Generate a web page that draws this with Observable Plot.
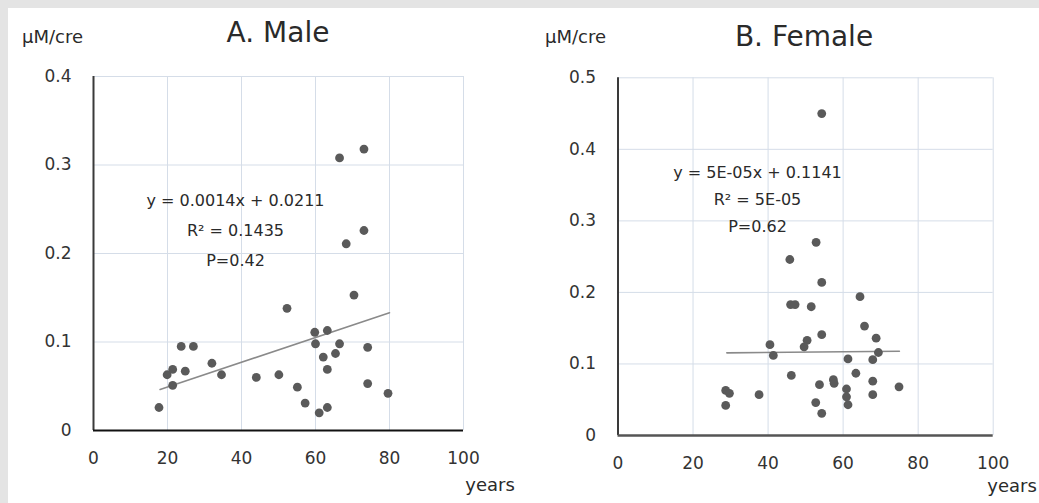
<!DOCTYPE html>
<html>
<head>
<meta charset="utf-8">
<script src="https://cdn.jsdelivr.net/npm/d3@7"></script>
<script src="https://cdn.jsdelivr.net/npm/@observablehq/plot@0.6"></script>
<style>
  html, body { margin: 0; padding: 0; }
  body { width: 1039px; height: 503px; background: #e4e4e4; position: relative; overflow: hidden; font-family: "DejaVu Sans", sans-serif; }
  #sheet { position: absolute; left: 8px; top: 8px; width: 1031px; height: 495px; background: #fff; }
  .panel { position: absolute; top: 0; }
  .lbl { position: absolute; white-space: nowrap; color: #2a2a2a; }
  .c { transform: translate(-50%, -50%); }
  .v { transform: translateY(-50%); }
</style>
</head>
<body>
<div id="sheet"></div>
<div id="left" class="panel" style="left:0px"></div>
<div id="right" class="panel" style="left:520px"></div>
<div class="lbl v" style="left:22px; top:36px; font-size:18px;">µM/cre</div>
<div class="lbl c" style="left:278px; top:32px; font-size:28px;">A. Male</div>
<div class="lbl c" style="left:490px; top:484px; font-size:18px;">years</div>
<div class="lbl v" style="left:545px; top:36px; font-size:18px;">µM/cre</div>
<div class="lbl c" style="left:804px; top:36px; font-size:28px;">B. Female</div>
<div class="lbl c" style="left:1012px; top:485px; font-size:18px;">years</div>
<script>
// ---- data ----
const xTicks = [0, 20, 40, 60, 80, 100];
const maleYTicks = [0, 0.1, 0.2, 0.3, 0.4];
const femaleYTicks = [0, 0.1, 0.2, 0.3, 0.4, 0.5];

const maleAge = [17.7, 19.9, 21.4, 21.4, 23.7, 24.8, 27.0, 32.0, 34.6, 44.0, 50.1, 52.3, 55.1, 57.2, 59.8, 60.0, 61.0, 62.1, 63.2, 63.2, 63.2, 65.4, 66.5, 66.5, 68.3, 70.4, 73.1, 73.1, 74.1, 74.1, 79.6];
const maleVal = [0.026, 0.063, 0.069, 0.051, 0.095, 0.067, 0.095, 0.076, 0.063, 0.060, 0.063, 0.138, 0.049, 0.031, 0.111, 0.098, 0.020, 0.083, 0.113, 0.069, 0.026, 0.087, 0.098, 0.308, 0.211, 0.153, 0.318, 0.226, 0.094, 0.053, 0.042];

const femaleAge = [54.3, 52.8, 45.8, 54.3, 46.0, 47.2, 51.5, 64.5, 65.7, 54.3, 68.8, 40.5, 50.4, 49.6, 41.4, 69.4, 67.9, 61.3, 46.2, 63.4, 57.4, 57.6, 67.9, 53.7, 74.9, 60.9, 28.7, 29.7, 37.6, 67.9, 60.9, 61.3, 28.7, 52.7, 54.3];
const femaleVal = [0.450, 0.270, 0.246, 0.214, 0.183, 0.183, 0.180, 0.194, 0.153, 0.141, 0.136, 0.127, 0.133, 0.124, 0.112, 0.116, 0.106, 0.107, 0.084, 0.087, 0.078, 0.073, 0.076, 0.071, 0.068, 0.065, 0.063, 0.059, 0.057, 0.057, 0.054, 0.043, 0.042, 0.046, 0.031];

const maleFit = { slope: 0.0014, intercept: 0.0211, from: 18, to: 80 };
const femaleFit = { slope: 0.00005, intercept: 0.1141, from: 29, to: 75 };

const maleLabel = "y = 0.0014x + 0.0211\nR\u00b2 = 0.1435\nP=0.42";
const femaleLabel = "y = 5E-05x + 0.1141\nR\u00b2 = 5E-05\nP=0.62";

// ---- drawing ----
function panel(opts) {
  const pts = opts.age.map((a, i) => ({ age: a, val: opts.val[i] }));
  const fit = [opts.fit.from, opts.fit.to].map(a => ({ age: a, val: opts.fit.intercept + opts.fit.slope * a }));
  const yMax = opts.yTicks[opts.yTicks.length - 1];
  return Plot.plot({
    width: opts.width,
    height: 503,
    marginLeft: opts.ml, marginRight: opts.mr, marginTop: opts.mt, marginBottom: opts.mb,
    style: { fontFamily: "DejaVu Sans, sans-serif", fontSize: "17px", color: "#333", background: "transparent", overflow: "visible" },
    x: { domain: [0, 100] },
    y: { domain: [0, yMax] },
    marks: [
      Plot.gridX(xTicks.filter(d => d > 0), { stroke: "#d5dde8", strokeOpacity: 1, strokeWidth: 1 }),
      Plot.gridY(opts.yTicks.filter(d => d > 0), { stroke: "#d5dde8", strokeOpacity: 1, strokeWidth: 1 }),
      Plot.axisX(xTicks, { tickSize: 0, tickPadding: 21, tickFormat: d => String(d), fontSize: 17, fill: "#333", label: null }),
      Plot.axisY(opts.yTicks, { tickSize: 0, tickPadding: 22, tickFormat: d => String(d), fontSize: 17, fill: "#333", label: null }),
      Plot.ruleX([0], { stroke: "#3a3a3a", strokeWidth: 2 }),
      Plot.ruleY([0], { stroke: opts.baseColor, strokeWidth: opts.baseWidth }),
      Plot.line(fit, { x: "age", y: "val", stroke: "#8a8a8a", strokeWidth: 1.6 }),
      Plot.dot(pts, { x: "age", y: "val", r: 4.4, fill: "#5a5a5a", stroke: "none" }),
      Plot.text([opts.label], {
        text: d => d, frameAnchor: "top-left", textAnchor: "middle", lineAnchor: "middle",
        dx: opts.tdx, dy: opts.tdy, lineHeight: opts.lh, fontSize: 16, fill: "#2a2a2a"
      })
    ]
  });
}

document.getElementById("left").appendChild(panel({
  age: maleAge, val: maleVal, fit: maleFit, yTicks: maleYTicks, label: maleLabel,
  width: 520, ml: 93, mr: 57, mt: 76, mb: 73,
  tdx: 142, tdy: 150, lh: 1.85, baseColor: "#111", baseWidth: 2
}));
document.getElementById("right").appendChild(panel({
  age: femaleAge, val: femaleVal, fit: femaleFit, yTicks: femaleYTicks, label: femaleLabel,
  width: 519, ml: 97.5, mr: 46.3, mt: 77.3, mb: 68,
  tdx: 139.5, tdy: 118.4, lh: 1.7, baseColor: "#555", baseWidth: 2.5
}));
</script>
</body>
</html>
